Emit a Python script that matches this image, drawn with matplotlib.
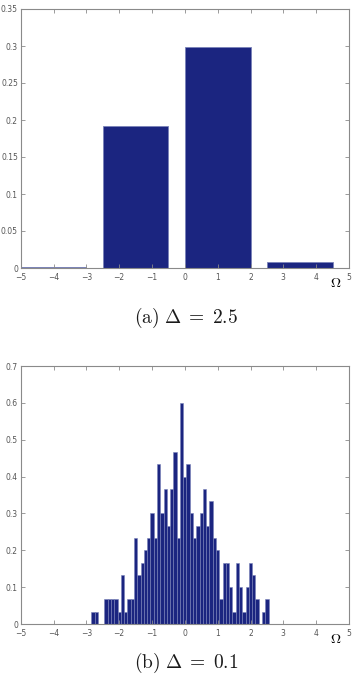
import numpy as np
import matplotlib
matplotlib.use("Agg")
import matplotlib.pyplot as plt

plt.rcParams['mathtext.fontset'] = 'cm'

# (a) Delta = 2.5 : bin centres and heights
centers_a = [-4.0, -1.5, 1.0, 3.5]
heights_a = [0.0013, 0.192, 0.299, 0.008]
width_a = 2.0

# (b) Delta = 0.1 : bin centres and heights (multiples of 1/30)
centers_b = np.round(np.arange(-2.8, 2.55, 0.1), 1)
counts_b = [1, 1, 0, 0, 2, 2, 2, 2, 1, 4, 1, 2, 2, 7, 4, 5, 6, 7, 9, 7,
            13, 9, 11, 8, 11, 14, 7, 18, 12, 13, 9, 7, 8, 9, 11, 8, 10, 7,
            6, 2, 5, 5, 3, 1, 5, 3, 1, 3, 5, 4, 2, 0, 1, 2]
heights_b = np.array(counts_b) / 30.0
width_b = 0.1

yticks_a = [0, 0.05, 0.1, 0.15, 0.2, 0.25, 0.3, 0.35]
ytick_labels_a = ['0', '0.05', '0.1', '0.15', '0.2', '0.25', '0.3', '0.35']
yticks_b = [0, 0.1, 0.2, 0.3, 0.4, 0.5, 0.6, 0.7]
ytick_labels_b = ['0', '0.1', '0.2', '0.3', '0.4', '0.5', '0.6', '0.7']
xticks = list(range(-5, 6))
xtick_labels = ['\u22125', '\u22124', '\u22123', '\u22122', '\u22121', '0', '1', '2', '3', '4', '5']

W, H = 356, 686
fig = plt.figure(figsize=(W / 100, H / 100), dpi=100)

bar_col = '#1b2580'
edge_col = '#7a82b8'
spine_col = '#8a8a8a'
tick_col = '#555555'


def px_axes(left, top, right, bottom):
    return fig.add_axes([left / W, 1 - bottom / H, (right - left) / W, (bottom - top) / H])


def style(ax, yt, ytl, ymax):
    ax.set_xlim(-5, 5)
    ax.set_ylim(0, ymax)
    ax.set_xticks(xticks)
    ax.set_xticklabels(xtick_labels)
    ax.set_yticks(yt)
    ax.set_yticklabels(ytl)
    ax.tick_params(direction='in', length=3, width=0.6, colors=spine_col,
                   labelcolor=tick_col, labelsize=5.5, top=True, right=True)
    ax.tick_params(axis='x', pad=3.5)
    ax.tick_params(axis='y', pad=2)
    for s in ax.spines.values():
        s.set_color(spine_col)
        s.set_linewidth(0.8)


ax1 = px_axes(20.7, 9, 349, 268)
ax1.bar(centers_a, heights_a, width=width_a, color=bar_col, edgecolor=edge_col, linewidth=0.6)
style(ax1, yticks_a, ytick_labels_a, 0.35)
ax1.text(4.78, -0.011, r'$\mathbf{\Omega}$', fontsize=10, ha='right', va='top')

ax2 = px_axes(20.7, 366, 349, 624)
ax2.bar(centers_b, heights_b, width=width_b, color=bar_col, edgecolor=edge_col, linewidth=0.4)
style(ax2, yticks_b, ytick_labels_b, 0.7)
ax2.text(4.78, -0.022, r'$\mathbf{\Omega}$', fontsize=10, ha='right', va='top')

fig.text(186 / W, 1 - 318 / H, r'$\mathrm{(a)}\ \Delta\;=\;2.5$', fontsize=14, ha='center', va='center', color='#1a1a1a')
fig.text(186 / W, 1 - 663 / H, r'$\mathrm{(b)}\ \Delta\;=\;0.1$', fontsize=14, ha='center', va='center', color='#1a1a1a')

fig.savefig('out.png', dpi=100, facecolor='white')
